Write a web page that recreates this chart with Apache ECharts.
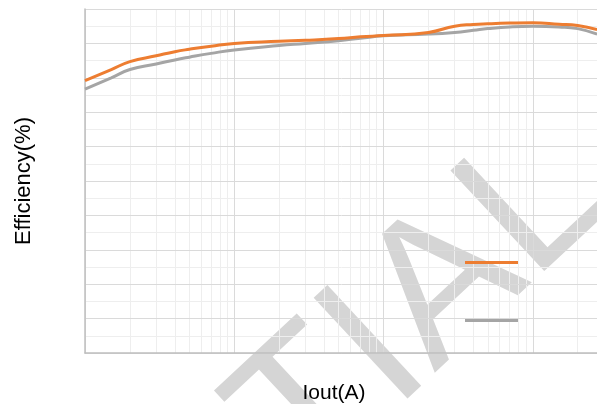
<!DOCTYPE html>
<html>
<head>
<meta charset="utf-8">
<script src="https://cdn.jsdelivr.net/npm/echarts@6/dist/echarts.min.js"></script>
<style>
  html, body { margin: 0; padding: 0; background: #fff; }
  #main { width: 597px; height: 404px; }
</style>
</head>
<body>
<div id="main"></div>
<script>
// output current (A), log scale
var iout = [0.01, 0.015, 0.02, 0.03, 0.04, 0.05, 0.07, 0.1, 0.2, 0.3, 0.5, 0.7, 1, 2, 3, 4, 5, 7, 10, 15, 20, 27];
// efficiency (%)
var effOrange = [79.2, 82.4, 84.7, 86.4, 87.6, 88.3, 89.2, 90.0, 90.6, 90.9, 91.4, 91.9, 92.3, 93.2, 95.0, 95.5, 95.7, 95.9, 96.0, 95.6, 95.2, 94.0];
var effGray   = [76.7, 80.0, 82.4, 84.0, 85.2, 86.0, 87.1, 88.1, 89.4, 90.0, 90.8, 91.5, 92.2, 92.7, 93.2, 93.8, 94.3, 94.8, 95.0, 94.8, 94.3, 92.7];
var seriesNames = ['Eff 1', 'Eff 2'];
// minor vertical grid lines (2..9 in each decade)
var decades = [0.01, 0.1, 1, 10];
var minorSteps = [2, 3, 4, 5, 6, 7, 8, 9];
var watermark = 'CONFIDENTIAL';

var dom = document.getElementById('main');
var myChart = echarts.init(dom);

function pairs(xs, ys) {
    return xs.map(function (x, i) { return [x, ys[i]]; });
}

var minorLines = [];
decades.forEach(function (d) {
    minorSteps.forEach(function (m) {
        minorLines.push({ xAxis: d * m });
    });
});

myChart.setOption({
    animation: false,
    textStyle: { fontFamily: '"Liberation Sans", Arial, sans-serif' },
    grid: {
        left: 85,
        right: -85,
        top: 9,
        bottom: 51,
        outerBoundsMode: 'none'
    },
    legend: [
        {
            data: [seriesNames[0]],
            zlevel: 2,
            left: 465,
            top: 261,
            padding: 0,
            icon: 'rect',
            itemWidth: 53,
            itemHeight: 3,
            formatter: function () { return ''; }
        },
        {
            data: [seriesNames[1]],
            zlevel: 2,
            left: 465,
            top: 319,
            padding: 0,
            icon: 'rect',
            itemWidth: 53,
            itemHeight: 3,
            formatter: function () { return ''; }
        }
    ],
    xAxis: {
        type: 'log',
        logBase: 10,
        min: 0.01,
        max: 100,
        zlevel: 1,
        name: 'Iout(A)',
        nameLocation: 'middle',
        nameGap: 30,
        nameTextStyle: {
            color: '#000',
            fontSize: 21,
            padding: [0, 99, 0, 0]
        },
        axisLine: { lineStyle: { color: '#bfbfbf', width: 1.5 } },
        axisTick: { show: false },
        axisLabel: { show: false },
        splitLine: { show: true, lineStyle: { color: '#dadada', width: 1 } }
    },
    yAxis: {
        type: 'value',
        min: 0,
        max: 100,
        interval: 10,
        zlevel: 1,
        name: 'Efficiency(%)',
        nameLocation: 'middle',
        nameGap: 50,
        nameTextStyle: { color: '#000', fontSize: 22 },
        axisLine: { show: true, lineStyle: { color: '#bfbfbf', width: 1.5 } },
        axisTick: { show: false },
        axisLabel: { show: false },
        minorTick: { show: false, splitNumber: 2 },
        splitLine: { lineStyle: { color: '#dadada', width: 1 } },
        minorSplitLine: { show: true, lineStyle: { color: '#eeeeee', width: 1 } }
    },
    series: [
        {
            // diagonal watermark, drawn under the grid
            name: 'watermark',
            type: 'custom',
            coordinateSystem: 'none',
            silent: true,
            zlevel: 0,
            z: -5,
            data: [0],
            renderItem: function () {
                return {
                    type: 'text',
                    x: 576,
                    y: 166,
                    rotation: 0.75,
                    style: {
                        text: watermark,
                        font: '200px "Liberation Sans", Arial, sans-serif',
                        fill: '#d5d5d5',
                        align: 'right',
                        verticalAlign: 'middle'
                    }
                };
            }
        },
        {
            name: 'minor',
            type: 'line',
            data: [],
            silent: true,
            zlevel: 1,
            markLine: {
                silent: true,
                symbol: 'none',
                label: { show: false },
                lineStyle: { color: '#eeeeee', width: 1, type: 'solid' },
                data: minorLines
            }
        },
        {
            name: seriesNames[1],
            type: 'line',
            smooth: true,
            showSymbol: false,
            data: pairs(iout, effGray),
            lineStyle: { color: '#a5a5a5', width: 3 },
            itemStyle: { color: '#a5a5a5' },
            zlevel: 2,
            z: 3
        },
        {
            name: seriesNames[0],
            type: 'line',
            smooth: true,
            showSymbol: false,
            data: pairs(iout, effOrange),
            lineStyle: { color: '#ed7d31', width: 3 },
            itemStyle: { color: '#ed7d31' },
            zlevel: 2,
            z: 4
        }
    ]
});
window.addEventListener('resize', function () {
    myChart.resize();
});
</script>
</body>
</html>
